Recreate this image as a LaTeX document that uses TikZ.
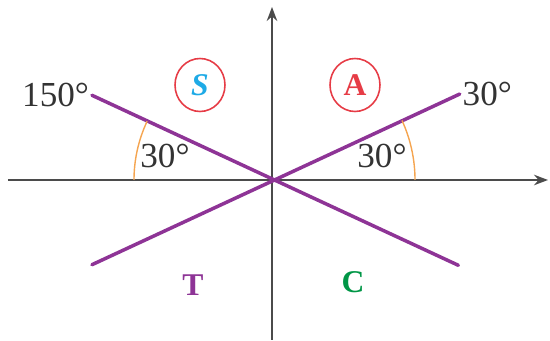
\documentclass[tikz,border=0pt]{standalone}
\usepackage{fontspec}
\setmainfont{Liberation Serif}
\usetikzlibrary{arrows.meta, shapes.geometric}

\definecolor{axisgray}{RGB}{75,75,75}
\definecolor{rayviolet}{RGB}{142,52,150}
\definecolor{arcorange}{RGB}{245,165,80}
\definecolor{ringred}{RGB}{230,60,70}
\definecolor{sblue}{RGB}{30,170,230}
\definecolor{cgreen}{RGB}{0,150,70}

\begin{document}
\begin{tikzpicture}[
    >=Stealth,
    axis/.style={draw=axisgray, line width=1.1pt, ->},
    ray/.style={draw=rayviolet, line width=2pt, line cap=round},
    anglearc/.style={draw=arcorange, line width=0.8pt},
    deg/.style={font=\fontsize{20}{24}\selectfont, text=black!80, inner sep=1.5pt},
    quad/.style={font=\fontsize{18}{21}\selectfont\bfseries},
    ring/.style={ellipse, draw=ringred, line width=0.9pt, minimum width=1.0cm, minimum height=1.06cm, inner sep=0pt}
]
    \useasboundingbox (-5.44,-3.22) rectangle (5.56,3.60);

    % axes
    \coordinate (O) at (0,0);
    \coordinate (xl) at (-5.28,0);
    \coordinate (xr) at (5.52,0);
    \coordinate (yb) at (0,-3.2);
    \coordinate (yt) at (0,3.46);
    \draw[axis] (xl) -- (xr);
    \draw[axis] (yb) -- (yt);

    % the two lines
    \coordinate (ne) at (24.6:4.13);
    \coordinate (nw) at (154.8:3.98);
    \coordinate (sw) at (205.2:3.98);
    \coordinate (se) at (335.4:4.1);
    \draw[ray] (sw) -- (ne);
    \draw[ray] (nw) -- (se);

    % angle marks
    \draw[anglearc] (0:2.86) arc (0:24.6:2.86);
    \draw[anglearc] (180:2.76) arc (180:154.8:2.76);

    % labels
    \node[deg, anchor=west] (dne) at (ne) {30°};
    \node[deg, anchor=east] (dnw) at (nw) {150°};
    \node[deg] (dr) at (2.2,0.48) {30°};
    \node[deg] (dl) at (-2.14,0.48) {30°};

    % quadrants
    \node[ring, quad, text=sblue, font=\fontsize{18}{21}\selectfont\bfseries\itshape] (S) at (-1.44,1.9) {S};
    \node[ring, quad, text=ringred] (A) at (1.66,1.9) {A};
    \node[quad, text=rayviolet] (T) at (-1.58,-2.1) {T};
    \node[quad, text=cgreen] (C) at (1.62,-2.04) {C};
\end{tikzpicture}
\end{document}
